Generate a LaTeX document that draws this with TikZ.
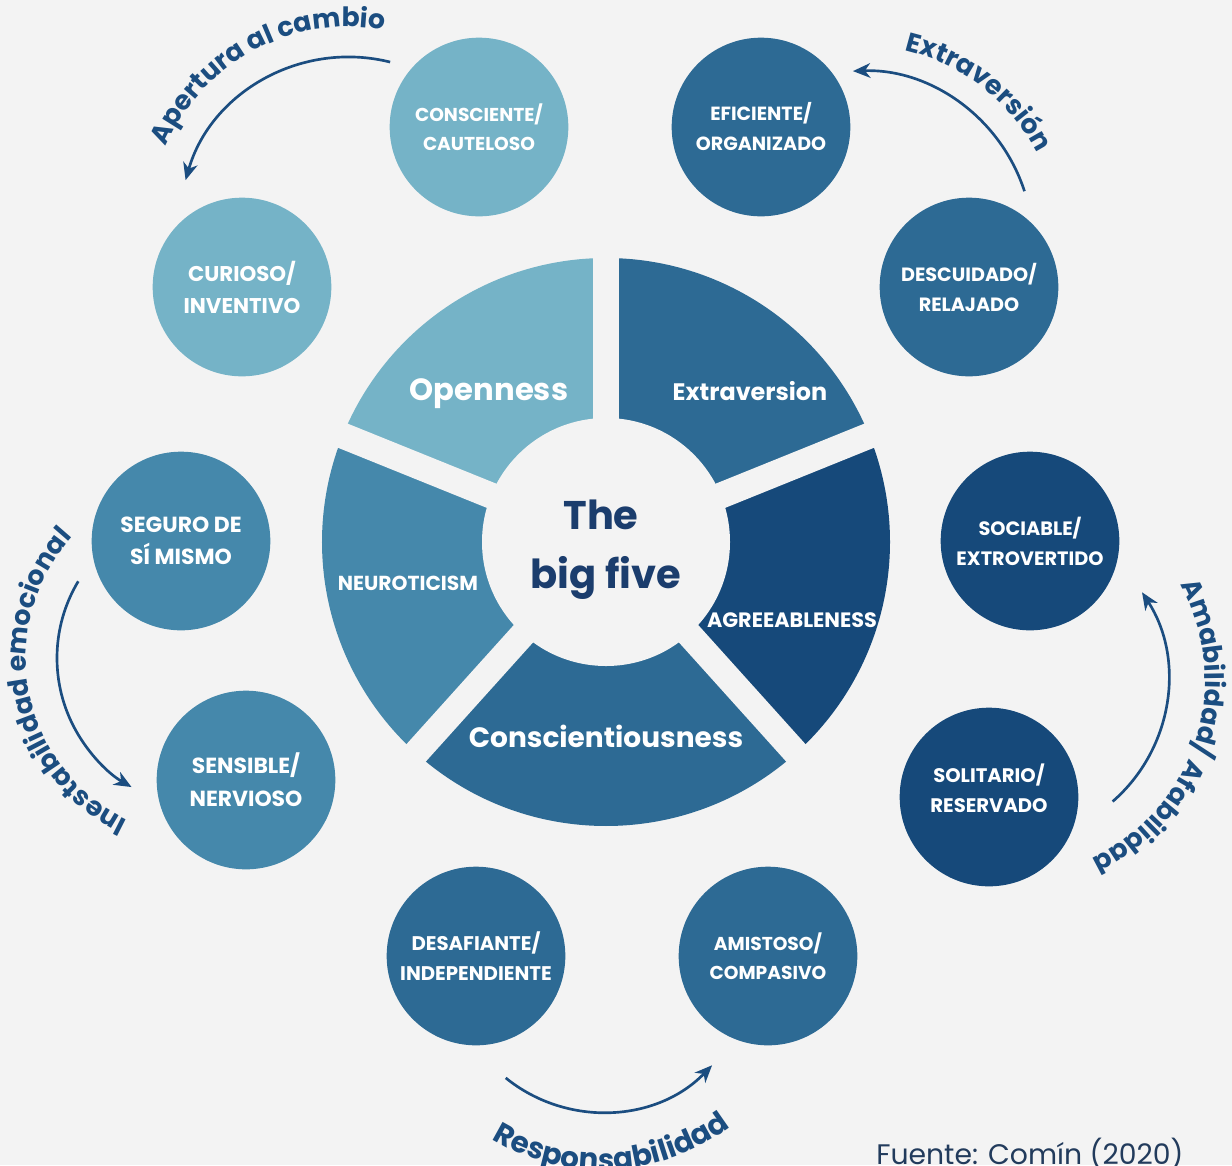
\documentclass[tikz,border=0pt]{standalone}
\usepackage{fontspec}
\setmainfont{Poppins}
\usetikzlibrary{arrows.meta,decorations.text}
\definecolor{bgc}{HTML}{F3F3F3}
\definecolor{lightc}{HTML}{75B3C7}
\definecolor{midc}{HTML}{4588AB}
\definecolor{bluec}{HTML}{2D6A94}
\definecolor{darkc}{HTML}{16497A}
\definecolor{titlec}{HTML}{1B3D6D}
\definecolor{arcc}{HTML}{1B4D80}
\definecolor{footc}{HTML}{223B5C}
\newcommand\arcfont{\fontsize{20}{20}\selectfont\bfseries\color{arcc}}
\newcommand\arcfontb{\fontsize{22}{22}\selectfont\bfseries\color{arcc}}
\newcommand\cfont[2]{\fontsize{#1}{#2}\selectfont\bfseries}
\tikzset{
  circ/.style={circle, minimum size=134pt, inner sep=0pt, text=white, align=center},
  seglabel/.style={text=white, anchor=base, inner sep=0pt},
  arrowline/.style={draw=arcc, line width=2pt, -{Stealth[length=13pt, width=11pt, inset=4pt]}},
  arctext/.style={decorate, decoration={text along path, text align=center, text={#1}}}
}
\begin{document}
\begin{tikzpicture}[x=0.75pt,y=-0.75pt]
\useasboundingbox (0,0) rectangle (1232,1165);
\fill[bgc] (0,0) rectangle (1232,1165);
\coordinate (C) at (606,542);
% ring sectors
\fill[bluec]  (C) -- ++(270:284) arc[start angle=270, end angle=338, radius=284] -- cycle;
\fill[darkc]  (C) -- ++(338:284) arc[start angle=338, end angle=408, radius=284] -- cycle;
\fill[bluec]  (C) -- ++(48:284)  arc[start angle=48,  end angle=132, radius=284] -- cycle;
\fill[midc]   (C) -- ++(132:284) arc[start angle=132, end angle=202, radius=284] -- cycle;
\fill[lightc] (C) -- ++(202:284) arc[start angle=202, end angle=270, radius=284] -- cycle;
\foreach \a in {270,338,48,132,202} \draw[bgc, line width=19.5pt] (C) -- ++(\a:300);
\fill[bgc] (C) circle[radius=124];
% sector labels
\node[seglabel, font=\cfont{23}{23}] (open) at (489,400) {Openness};
\node[seglabel, font=\cfont{17.9}{18}] (extra) at (750,400) {Extraversion};
\node[seglabel, font=\cfont{15.6}{16}] (agree) at (792,627) {AGREEABLENESS};
\node[seglabel, font=\cfont{15.2}{16}] (neuro) at (408,590) {NEUROTICISM};
\node[seglabel, font=\cfont{21}{21}] (consc) at (606,747) {Conscientiousness};
\node[anchor=base, inner sep=0pt, text=titlec, font=\cfont{30}{30}] (the) at (601,529) {The};
\node[anchor=base, inner sep=0pt, text=titlec, font=\cfont{30}{30}] (bigfive) at (606,588) {big five};
% circles
\node[circ, fill=lightc, font=\cfont{14}{21.5}] (conscien) at (479,127) {CONSCIENTE/\\CAUTELOSO};
\node[circ, fill=bluec, font=\cfont{14.3}{22.5}] (eficiente) at (761,127) {EFICIENTE/\\ORGANIZADO};
\node[circ, fill=lightc, font=\cfont{16}{24}] (curioso) at (242,287) {CURIOSO/\\INVENTIVO};
\node[circ, fill=bluec, font=\cfont{14.4}{22.5}] (descuidado) at (969,287) {DESCUIDADO/\\RELAJADO};
\node[circ, fill=midc, font=\cfont{16.4}{24}] (seguro) at (181,541) {SEGURO DE\\SÍ MISMO};
\node[circ, fill=darkc, font=\cfont{14.5}{22.5}] (sociable) at (1030,541) {SOCIABLE/\\EXTROVERTIDO};
\node[circ, fill=midc, font=\cfont{16.4}{24.5}] (sensible) at (246,780) {SENSIBLE/\\NERVIOSO};
\node[circ, fill=darkc] (solitario) at (989,797) {};
\node[text=white, align=center, font=\cfont{14.7}{22.5}] (solitext) at (989,788) {SOLITARIO/\\RESERVADO};
\node[circ, fill=bluec, font=\cfont{14.8}{22}] (desafiante) at (476,956) {DESAFIANTE/\\INDEPENDIENTE};
\node[circ, fill=bluec, font=\cfont{14}{22}] (amistoso) at (768,956) {AMISTOSO/\\COMPASIVO};
% arc centres
\coordinate (A1) at (349,227);
\coordinate (A2) at (859,245);
\coordinate (A3) at (206,658);
\coordinate (A4) at (1007,680);
\coordinate (A5) at (602,959);
% arrows
\draw[arrowline] (A1) ++(284:170) arc[start angle=284, end angle=196, radius=170];
\draw[arrowline] (A2) ++(342:174) arc[start angle=342, end angle=268, radius=174];
\draw[arrowline] (A3) ++(211:149) arc[start angle=211, end angle=120, radius=149];
\draw[arrowline] (A4) ++(49:161) arc[start angle=49, end angle=-33, radius=161];
\draw[arrowline] (A5) ++(129:153) arc[start angle=129, end angle=44, radius=153];
% arc texts
\path[arctext={|\arcfont|Apertura al cambio}] (A1) ++(197:200) arc[start angle=197, end angle=287, radius=200];
\path[arctext={|\arcfont|Extraversión}] (A2) ++(263:200) arc[start angle=263, end angle=353, radius=200];
\path[arctext={|\arcfont|Inestabilidad emocional}] (A3) ++(109:180) arc[start angle=109, end angle=229, radius=180];
\path[arctext={|\arcfont|Amabilidad/ Afabilidad}] (A4) ++(-37:198) arc[start angle=-37, end angle=73, radius=198];
\path[arctext={|\arcfontb|Responsabilidad}] (A5) ++(132:211) arc[start angle=132, end angle=42, radius=211];
% footer
\node[anchor=base west, inner sep=0pt, text=footc, font=\fontsize{21.2}{21.2}\selectfont] (fuente) at (876,1164) {Fuente: Comín (2020)};
\end{tikzpicture}
\end{document}
